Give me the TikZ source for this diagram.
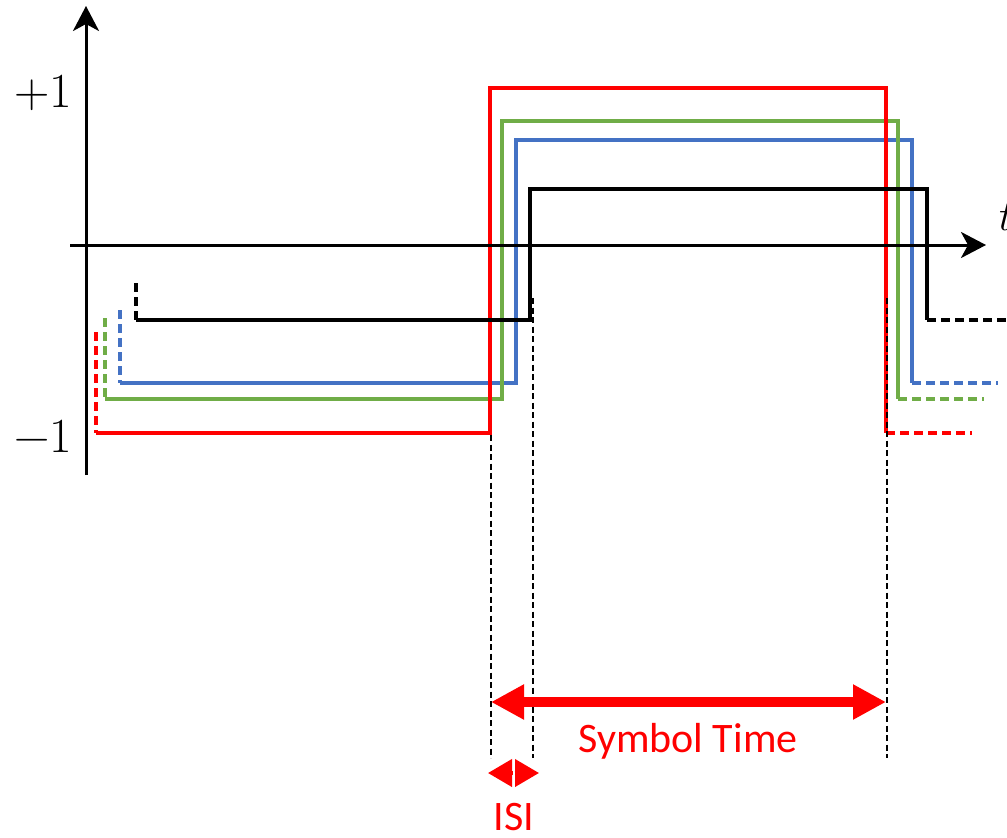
\documentclass[tikz,border=0pt]{standalone}
\usepackage{fontspec}
\newfontfamily\calib{Carlito}
\usetikzlibrary{arrows.meta}
\definecolor{sigred}{HTML}{FF0000}
\definecolor{siggreen}{HTML}{70AD47}
\definecolor{sigblue}{HTML}{4472C4}
\tikzset{
  sig/.style={line width=4pt, line join=miter},
  sigdash/.style={line width=4pt, dash pattern=on 9pt off 5pt},
  guide/.style={line width=1.8pt, black, dash pattern=on 6pt off 3.5pt},
  axis/.style={line width=3pt, -{Stealth[length=25pt,width=26pt,inset=7pt]}},
  lab/.style={inner sep=0pt, font=\fontsize{49}{49}\selectfont},
  redlab/.style={inner sep=0pt, text=sigred, font=\calib\fontsize{42}{42}\selectfont},
}
\begin{document}
\begin{tikzpicture}[x=1pt,y=-1pt]
\useasboundingbox (0,0) rectangle (1007,838);
% blue signal
\draw[sigdash, sigblue] (120,310) -- (120,383);
\draw[sig, sigblue] (120,383) -- (516,383) -- (516,140) -- (912,140) -- (912,383);
\draw[sigdash, sigblue] (912,383) -- (998,383);
% green signal
\draw[sigdash, siggreen] (105,318) -- (105,399);
\draw[sig, siggreen] (105,399) -- (502,399) -- (502,121) -- (898,121) -- (898,399);
\draw[sigdash, siggreen] (898,399) -- (984,399);
% red signal
\draw[sigdash, sigred] (96,332) -- (96,433);
\draw[sig, sigred] (96,433) -- (490,433) -- (490,88) -- (886,88) -- (886,433);
\draw[sigdash, sigred] (886,433) -- (972,433);
% black signal
\draw[sigdash, black] (136,283) -- (136,320);
\draw[sig, black] (136,320) -- (530,320) -- (530,189) -- (927,189) -- (927,320);
\draw[sigdash, black] (927,320) -- (1007,320);
% guide lines
\coordinate (g1t) at (491,435); \coordinate (g1b) at (491,758);
\coordinate (g2t) at (533,298); \coordinate (g2b) at (533,758);
\coordinate (g3t) at (887,298); \coordinate (g3b) at (887,758);
\draw[guide] (g1t) -- (g1b);
\draw[guide] (g2t) -- (g2b);
\draw[guide] (g3t) -- (g3b);
% axes
\coordinate (yb) at (86,475); \coordinate (yt) at (86,6);
\coordinate (xl) at (70,245); \coordinate (xr) at (986,245);
\draw[axis] (yb) -- (yt);
\draw[axis] (xl) -- (xr);
% labels
\node[lab, anchor=base east] (p1) at (72,107) {+1};
\node[lab, anchor=base east] (m1) at (72,452) {−1};
\node[lab, anchor=base west, font=\itshape\fontsize{44}{44}\selectfont] (tl) at (996,230) {t};
% symbol time arrow
\coordinate (sa) at (491,702); \coordinate (sb) at (886,702);
\draw[sigred, line width=10pt, {Triangle[length=33pt,width=33pt]}-{Triangle[length=33pt,width=33pt]}] (sa) -- (sb);
\node[redlab, anchor=base] (st) at (688,752) {Symbol Time};
% ISI arrow
\coordinate (ic) at (513.5,773); \coordinate (il) at (488,773); \coordinate (ir) at (539,773);
\draw[sigred, line width=4pt, -{Triangle[length=24pt,width=27pt]}] ([xshift=-1pt]ic) -- (il);
\draw[sigred, line width=4pt, -{Triangle[length=24pt,width=27pt]}] ([xshift=1pt]ic) -- (ir);
\node[redlab, anchor=base] (isi) at (514,830) {ISI};
\end{tikzpicture}
\end{document}
